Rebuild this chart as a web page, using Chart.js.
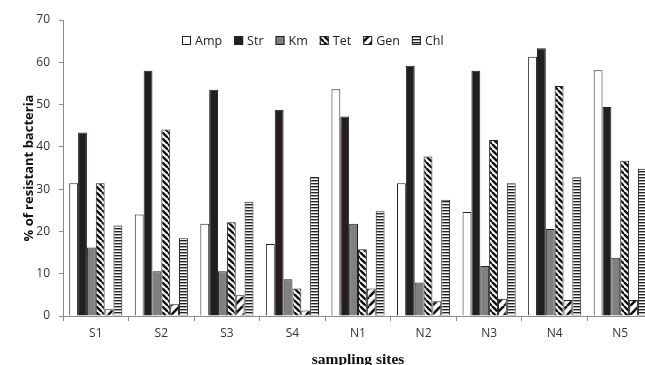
<!DOCTYPE html>
<html><head><meta charset="utf-8">
<script src="https://cdn.jsdelivr.net/npm/chart.js@4"></script>
<style>html,body{margin:0;padding:0;overflow:hidden;background:#fff;width:645px;height:365px}canvas{display:block}</style>
</head><body><canvas id="c" width="660" height="365"></canvas>
<script>
const categories = ['S1','S2','S3','S4','N1','N2','N3','N4','N5'];
const seriesNames = ['Amp','Str','Km','Tet','Gen','Chl'];
const amp = [31.4,24.0,21.8,17.0,53.6,31.4,24.6,61.3,58.1];
const str = [43.4,58.0,53.5,48.8,47.2,59.2,58.0,63.3,49.4];
const km  = [16.2,10.6,10.6,8.7,21.8,7.9,11.8,20.6,13.8];
const tet = [31.4,44.1,22.2,6.5,15.8,37.7,41.6,54.4,36.7];
const gen = [1.6,2.8,4.9,1.3,6.5,3.5,4.1,3.8,3.8];
const chl = [21.4,18.4,27.0,32.9,24.8,27.5,31.4,32.8,34.8];
const yTicks = [0,10,20,30,40,50,60,70];

function makePattern(w, h, draw) {
  const c = document.createElement('canvas');
  c.width = w; c.height = h;
  const g = c.getContext('2d');
  g.fillStyle = '#fff'; g.fillRect(0,0,w,h);
  draw(g, w, h);
  return document.getElementById('c').getContext('2d').createPattern(c, 'repeat');
}
const tetPat = makePattern(6, 6, (g,w,h) => {
  g.strokeStyle = '#111'; g.lineWidth = 2.4;
  for (const o of [-w, 0, w]) { g.beginPath(); g.moveTo(o,0); g.lineTo(o+w,h); g.stroke(); }
});
const genPat = makePattern(9, 9, (g,w,h) => {
  g.strokeStyle = '#111'; g.lineWidth = 2.6;
  for (const o of [-w, 0, w]) { g.beginPath(); g.moveTo(o+w,0); g.lineTo(o,h); g.stroke(); }
});
const chlPat = makePattern(2, 3, (g,w,h) => {
  g.fillStyle = '#222'; g.fillRect(0,0,w,1.4);
});

const fills = ['#ffffff', '#231f20', '#808080', tetPat, genPat, chlPat];
const values = [amp, str, km, tet, gen, chl];

const legendPlugin = {
  id: 'customLegend',
  afterDraw(chart) {
    const ctx = chart.ctx;
    ctx.save();
    ctx.font = '12.5px "Open Sans", "Liberation Sans", sans-serif';
    ctx.textBaseline = 'middle';
    let x = 182; const y = 41;
    chart.data.datasets.forEach(ds => {
      ctx.fillStyle = ds.backgroundColor;
      ctx.fillRect(x, y-5, 9, 9);
      ctx.strokeStyle = '#222'; ctx.lineWidth = 1;
      ctx.strokeRect(x+0.5, y-4.5, 8, 8);
      ctx.fillStyle = '#222';
      ctx.fillText(ds.label, x+13, y);
      x += 13 + ctx.measureText(ds.label).width + 12;
    });
    ctx.restore();
  }
};

new Chart(document.getElementById('c'), {
  type: 'bar',
  data: {
    labels: categories,
    datasets: seriesNames.map((n, i) => ({
      label: n, data: values[i], backgroundColor: fills[i],
      borderColor: '#222', borderWidth: 1,
      categoryPercentage: 0.81, barPercentage: 1.0
    }))
  },
  options: {
    responsive: false, animation: false,
    layout: { padding: { top: 20, right: 7, left: 0, bottom: 0 } },
    plugins: { legend: { display: false }, tooltip: { enabled: false } },
    scales: {
      x: {
        afterFit(s) { s.height = 49; },
        grid: { drawOnChartArea: false, offset: true, tickLength: 5, color: '#8c8c8c' },
        border: { color: '#8c8c8c' },
        ticks: { color: '#333', padding: 5, font: { size: 12, family: '"Open Sans", "Liberation Sans", sans-serif' } },
        title: { display: true, text: 'sampling sites', color: '#111', padding: { top: 0, bottom: -4 },
          font: { size: 15.5, weight: 'bold', family: '"Liberation Serif", serif' } }
      },
      y: {
        min: 0, max: 70,
        afterFit(s) { s.width = 63; },
        afterBuildTicks(s) { s.ticks = yTicks.map(v => ({ value: v })); },
        grid: { drawOnChartArea: false, tickLength: 4, color: '#8c8c8c' },
        border: { color: '#8c8c8c' },
        ticks: { color: '#333', padding: 9, font: { size: 12, family: '"Open Sans", "Liberation Sans", sans-serif' } },
        title: { display: true, text: '% of resistant bacteria', color: '#111', padding: { top: 21, bottom: 0 },
          font: { size: 13, weight: 'bold', family: '"Open Sans", "Liberation Sans", sans-serif' } }
      }
    }
  },
  plugins: [legendPlugin]
});
</script>
</body></html>
